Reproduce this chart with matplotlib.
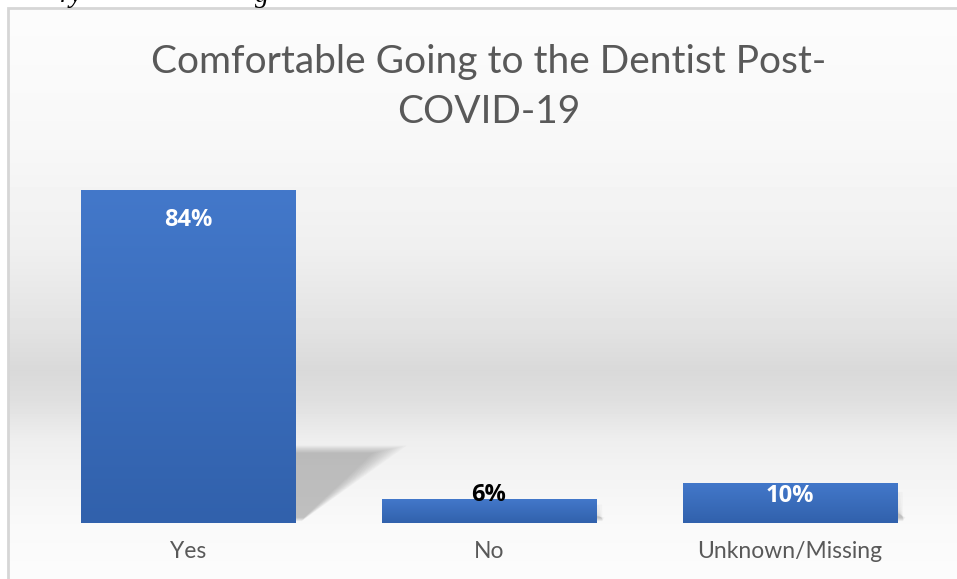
import numpy as np
import matplotlib.pyplot as plt
from matplotlib.patches import Rectangle, Polygon
from matplotlib.colors import LinearSegmentedColormap

#---DATA
categories = ["Yes", "No", "Unknown/Missing"]
values = [84, 6, 10]
value_labels = ["84%", "6%", "10%"]
label_colors = ["white", "black", "white"]
title = "Comfortable Going to the Dentist Post-\nCOVID-19"

# label centre relative to bar top (in %-units), as Excel placed them
label_shift = [-7.6, 1.1, -3.2]

W, H = 957, 579
fig = plt.figure(figsize=(W / 100, H / 100), dpi=100)
fig.patch.set_facecolor("white")

#---BACKGROUND GRADIENT (chart area inside the border)
bg = fig.add_axes([8 / W, 0, 1 - 8 / W, (H - 8) / H])
bg.set_axis_off()
rows = np.arange(8, H)
stops_y = [8, 150, 250, 330, 370, 400, 440, 470, 523, 579]
stops_g = [252, 247, 239, 226, 217, 223, 238, 243, 249, 252]
grad = np.interp(rows, stops_y, stops_g) / 255.0
bg.imshow(grad[:, None], aspect="auto", extent=[0, 1, 0, 1],
          cmap="gray", vmin=0, vmax=1)
bg.set_xlim(0, 1)
bg.set_ylim(0, 1)

# border
fig.patches.append(Rectangle((8 / W, -0.01), 1.0, (H - 8) / H + 0.01,
                             transform=fig.transFigure, fill=False,
                             edgecolor="#d6d6d6", linewidth=2))

#---BARS
ax = fig.add_axes([38 / W, (H - 523) / H, 902 / W, 90 * 3.964 / H])
ax.patch.set_alpha(0)
x = np.arange(len(categories))
width = 0.712

# soft shadows
for i, v in enumerate(values):
    right = x[i] + width / 2
    if v > 20:
        top, reach = 19.7, 0.38
    else:
        top, reach = v * 0.8, 0.03
    n = 12
    for k in range(n):
        g = (n - k) / n
        poly = Polygon([(right - 0.01, 0.4 + g * 1.0),
                        (right - 0.01, top - g * 2.0),
                        (right + reach - g * 0.12, top - g * 2.0),
                        (right + 0.02 + g * 0.01, 0.4 + g * 1.0)],
                       closed=True, facecolor="#6f6f6f", edgecolor="none",
                       alpha=0.038)
        ax.add_patch(poly)

bars = ax.bar(x, values, width=width, color="#3b6dbf", edgecolor="none", zorder=2)
bar_grad = np.linspace(0, 1, 256)[:, None]
bcmap = LinearSegmentedColormap.from_list("b", ["#3161ac", "#4378ca"])
for b in bars:
    im = ax.imshow(bar_grad, aspect="auto", cmap=bcmap, origin="lower",
                   extent=[b.get_x(), b.get_x() + b.get_width(), 0, b.get_height()],
                   zorder=3)
    im.set_clip_path(b)
ax.set_xlim(-0.5, 2.5)
ax.set_ylim(0, 90)

for i, v in enumerate(values):
    ax.text(x[i], v + label_shift[i], value_labels[i], ha="center", va="center",
            color=label_colors[i], fontsize=17, fontweight="bold",
            family="Open Sans", zorder=5)

ax.set_xticks(x)
ax.set_xticklabels(categories, fontsize=16.5, color="#595959", family="Lato")
ax.tick_params(axis="x", length=0, pad=13)
ax.set_yticks([])
for s in ax.spines.values():
    s.set_visible(False)

fig.text(489 / W, 1 - 87 / H, title, ha="center", va="center", fontsize=28,
         color="#595959", family="Lato", linespacing=1.45)

# cropped document text at the very top
fig.text(60 / W, 1 - 2 / H, "ry", ha="left", va="baseline", fontsize=20,
         style="italic", family="Liberation Serif", color="black")
fig.text(255 / W, 1 - 2 / H, "g", ha="left", va="baseline", fontsize=20,
         style="italic", family="Liberation Serif", color="black")

fig.savefig("out.png", dpi=100)
